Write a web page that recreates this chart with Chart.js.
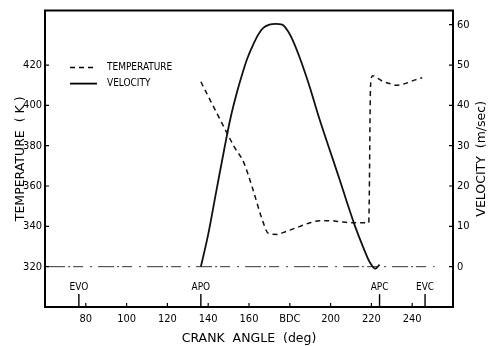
<!DOCTYPE html>
<html>
<head>
<meta charset="utf-8">
<script src="https://cdn.jsdelivr.net/npm/chart.js@4.4.0/dist/chart.umd.min.js"></script>
<style>
  html, body { margin: 0; padding: 0; background: #fff; }
  #wrap { width: 498px; height: 346px; }
</style>
</head>
<body>
<div id="wrap"><canvas id="chart"></canvas></div>
<script>
// tick labels
const angleTicks = [80, 100, 120, 140, 160, 180, 200, 220, 240];
const tempTicks = [320, 340, 360, 380, 400, 420];
const velTicks = [0, 10, 20, 30, 40, 50, 60];

// temperature (K) vs crank angle (deg)
const tempAngle = [136.4, 149.1, 153, 157.3, 161.7, 166.6, 169.5, 173.9, 177, 181, 185.1, 190, 194.8, 200, 204.5, 210.8, 218.7, 219.6, 220.6, 223, 225.4, 229, 232.2, 237.1, 241, 244.9];
const tempValue = [411.7, 386.5, 379, 372, 359, 343, 336.5, 336, 337, 338.5, 340, 341.8, 342.8, 342.8, 342.3, 341.8, 341.8, 410, 414.7, 413.5, 412, 410.8, 410, 411, 412.5, 413.7];

// velocity (m/sec) vs crank angle (deg)
const velAngle = [136.4, 140, 144, 148, 151, 154.4, 157, 159.3, 162, 164.6, 167, 170, 173, 176.3, 179.2, 182, 185.1, 188, 190, 194, 199.2, 204.5, 208, 212, 216, 219.1, 222, 224];
const velValue = [0, 8, 18.8, 29.5, 37, 43.8, 48.3, 51.8, 55, 57.6, 59.2, 60, 60.2, 60, 58.3, 55.5, 51.5, 47.3, 44.2, 37.5, 29.5, 21.5, 16, 10, 4.8, 1.2, -0.5, 0.5];

// zero reference line
const zeroAngle = [62, 251];
const zeroValue = [0, 0];

// valve events
const eventAngle = [76.6, 136.4, 224, 246.3];
const eventName = ["EVO", "APO", "APC", "EVC"];

const tickFont = { family: "'Liberation Sans Narrow', 'DejaVu Sans Condensed', sans-serif", size: 11 };
const titleFont = { family: "'DejaVu Sans', sans-serif", size: 12.5 };

const pts = (xs, ys) => xs.map((a, i) => ({ x: a, y: ys[i] }));

const extras = {
    id: 'extras',
    afterDatasetsDraw(chart) {
        const { ctx, chartArea: a, scales: { x, yT, yV } } = chart;
        ctx.save();
        ctx.strokeStyle = '#000';
        ctx.fillStyle = '#000';

        // top border
        ctx.lineWidth = 2;
        ctx.beginPath();
        ctx.moveTo(a.left - 1, a.top);
        ctx.lineTo(a.right + 1, a.top);
        ctx.stroke();

        // inward ticks
        ctx.lineWidth = 1.2;
        ctx.beginPath();
        x.ticks.forEach(t => {
            const px = x.getPixelForValue(t.value);
            ctx.moveTo(px, a.bottom);
            ctx.lineTo(px, a.bottom - 4);
        });
        yT.ticks.forEach(t => {
            const py = yT.getPixelForValue(t.value);
            ctx.moveTo(a.left, py);
            ctx.lineTo(a.left + 4, py);
        });
        yV.ticks.forEach(t => {
            const py = yV.getPixelForValue(t.value);
            ctx.moveTo(a.right, py);
            ctx.lineTo(a.right - 4, py);
        });
        ctx.stroke();

        // valve event markers
        ctx.lineWidth = 1.4;
        ctx.font = "10px 'DejaVu Sans Condensed', sans-serif";
        ctx.textAlign = 'center';
        ctx.textBaseline = 'middle';
        eventAngle.forEach((ang, i) => {
            const px = x.getPixelForValue(ang);
            ctx.beginPath();
            ctx.moveTo(px, yV.getPixelForValue(-10));
            ctx.lineTo(px, yV.getPixelForValue(-6.8));
            ctx.stroke();
            ctx.fillText(eventName[i], px, yV.getPixelForValue(-5.1));
        });

        // legend
        ctx.textAlign = 'left';
        ctx.font = "10px 'DejaVu Sans Condensed', sans-serif";
        const lx = a.left + 25, ly = a.top + 57;
        chart.data.datasets.slice(0, 2).forEach((ds, i) => {
            const y = ly + i * 16;
            ctx.lineWidth = ds.borderWidth;
            ctx.setLineDash(ds.borderDash || []);
            ctx.beginPath();
            ctx.moveTo(lx, y);
            ctx.lineTo(lx + 27, y);
            ctx.stroke();
            ctx.setLineDash([]);
            ctx.fillText(ds.label, lx + 37, y);
        });

        // right axis title, reading bottom to top
        ctx.font = "12.5px 'DejaVu Sans', sans-serif";
        ctx.textAlign = 'center';
        ctx.translate(482, (a.top + a.bottom) / 2);
        ctx.rotate(-Math.PI / 2);
        ctx.fillText('VELOCITY  (m/sec)', 0, 0);
        ctx.restore();
    }
};

new Chart(document.getElementById('chart'), {
    type: 'line',
    data: {
        datasets: [{
            label: 'TEMPERATURE',
            data: pts(tempAngle, tempValue),
            yAxisID: 'yT',
            borderColor: '#111',
            borderWidth: 1.5,
            borderDash: [5, 4],
            pointRadius: 0,
            cubicInterpolationMode: 'monotone'
        }, {
            label: 'VELOCITY',
            data: pts(velAngle, velValue),
            yAxisID: 'yV',
            borderColor: '#111',
            borderWidth: 1.8,
            pointRadius: 0,
            cubicInterpolationMode: 'monotone'
        }, {
            label: 'zero',
            data: pts(zeroAngle, zeroValue),
            yAxisID: 'yV',
            borderColor: '#333',
            borderWidth: 1,
            borderDash: [16, 3, 2, 3, 10, 7, 2, 6],
            pointRadius: 0
        }]
    },
    options: {
        responsive: true,
        maintainAspectRatio: false,
        animation: false,
        layout: { padding: { top: 5, left: 0, right: 0, bottom: 0 } },
        plugins: {
            legend: { display: false },
            tooltip: { enabled: false }
        },
        scales: {
            x: {
                type: 'linear',
                min: 60,
                max: 260,
                afterBuildTicks: s => { s.ticks = angleTicks.map(v => ({ value: v })); },
                afterFit: s => { s.height = 39; },
                ticks: {
                    color: '#000',
                    font: tickFont,
                    padding: 6,
                    maxRotation: 0,
                    callback: v => v === 180 ? 'BDC' : v
                },
                grid: { display: false, drawTicks: false },
                border: { color: '#000', width: 2 },
                title: {
                    display: true,
                    text: 'CRANK  ANGLE  (deg)',
                    color: '#000',
                    font: titleFont,
                    padding: { top: 5, bottom: 0 }
                }
            },
            yT: {
                type: 'linear',
                position: 'left',
                min: 300,
                max: 447,
                afterBuildTicks: s => { s.ticks = tempTicks.map(v => ({ value: v })); },
                afterFit: s => { s.width = 45; },
                ticks: { color: '#000', font: tickFont, padding: 3 },
                grid: { display: false, drawTicks: false },
                border: { color: '#000', width: 2 },
                title: {
                    display: true,
                    text: 'TEMPERATURE  ( K )',
                    color: '#000',
                    font: titleFont,
                    padding: { top: 13, bottom: 0 }
                }
            },
            yV: {
                type: 'linear',
                position: 'right',
                min: -10,
                max: 63.5,
                afterBuildTicks: s => { s.ticks = velTicks.map(v => ({ value: v })); },
                afterFit: s => { s.width = 45; },
                ticks: { color: '#000', font: tickFont, padding: 4 },
                grid: { display: false, drawTicks: false },
                border: { color: '#000', width: 2 }
            }
        }
    },
    plugins: [extras]
});
</script>
</body>
</html>
